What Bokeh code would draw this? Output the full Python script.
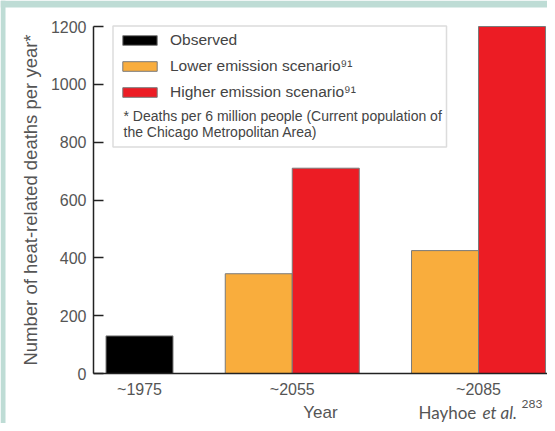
from bokeh.plotting import figure
from bokeh.models import (Range1d, FixedTicker, Legend, LegendItem, Label,
                          BoxAnnotation)
from bokeh.embed import file_html
from bokeh.resources import INLINE

# ---- data ----
periods = ["~1975", "~2055", "~2085"]
observed = [130]               # ~1975
lower_emission = [345, 425]    # ~2055, ~2085
higher_emission = [710, 1200]  # ~2055, ~2085
y_ticks = [0, 200, 400, 600, 800, 1000, 1200]

series_names = ["Observed", "Lower emission scenario\u2079\u00b9",
                "Higher emission scenario\u2079\u00b9"]
colors = ["#000000", "#F9AD3D", "#EC1C24"]

# ---- layout of the bar slots (one unit = one bar width) ----
bar_w = 1.0
gap = 0.78
groups = [[("obs", observed[0])],
          [("low", lower_emission[0]), ("high", higher_emission[0])],
          [("low", lower_emission[1]), ("high", higher_emission[1])]]
xs = {"obs": [], "low": [], "high": []}
vals = {"obs": [], "low": [], "high": []}
centers = []
cursor = 0.0
for g in groups:
    start = cursor
    for kind, v in g:
        xs[kind].append(cursor + bar_w / 2)
        vals[kind].append(v)
        cursor += bar_w
    centers.append((start + cursor) / 2)
    cursor += gap
offset = xs["obs"][0]
for k in xs:
    xs[k] = [x - offset for x in xs[k]]
centers = [c - offset for c in centers]

# ---- page geometry (pixels) ----
W, H = 547, 423
first_bar_px, unit_px = 139, 67      # centre of first bar, one bar width
axis_x_px = 93                       # y-axis position
zero_px, top_px = 373, 26            # y=0 and y=1200 rows
y_top_val = y_ticks[-1]
px_per_val = (zero_px - top_px) / y_top_val

x_start = -first_bar_px / unit_px
x_end = (W - first_bar_px) / unit_px
x_axis_start = -(first_bar_px - axis_x_px) / unit_px
y_start = -(H - zero_px) / px_per_val
y_end = y_top_val + top_px / px_per_val

p = figure(width=W, height=H, output_backend="svg", toolbar_location=None,
           x_range=Range1d(x_start, x_end), y_range=Range1d(y_start, y_end),
           min_border_left=0, min_border_right=0, min_border_top=0,
           min_border_bottom=0)
p.outline_line_color = None
p.grid.visible = False
p.background_fill_color = "white"
p.border_fill_color = "white"

line_col = "#7a7a7a"
r_obs = p.vbar(x=xs["obs"], top=vals["obs"], width=bar_w, fill_color=colors[0],
               line_color=line_col, line_width=1)
r_low = p.vbar(x=xs["low"], top=vals["low"], width=bar_w, fill_color=colors[1],
               line_color=line_col, line_width=1)
r_high = p.vbar(x=xs["high"], top=vals["high"], width=bar_w, fill_color=colors[2],
                line_color=line_col, line_width=1)

# axes
font = "Liberation Sans"
xa = p.xaxis[0]
xa.fixed_location = 0
xa.bounds = (x_axis_start, x_end)
xa.ticker = FixedTicker(ticks=centers)
xa.major_label_overrides = {c: lab for c, lab in zip(centers, periods)}
xa.major_tick_in = 0
xa.major_tick_out = 0
xa.minor_tick_line_color = None
xa.axis_line_width = 1.5
xa.axis_line_color = "#222222"
xa.major_label_text_font = font
xa.major_label_text_font_size = "16px"
xa.major_label_text_color = "#555555"
xa.major_label_standoff = 7
xa.axis_label = "Year"
xa.axis_label_text_font = font
xa.axis_label_text_font_size = "17px"
xa.axis_label_text_font_style = "normal"
xa.axis_label_text_color = "#555555"
xa.axis_label_standoff = 2

ya = p.yaxis[0]
ya.fixed_location = x_axis_start
ya.bounds = (0, y_top_val)
ya.ticker = FixedTicker(ticks=y_ticks)
ya.major_tick_in = 10
ya.major_tick_out = 0
ya.major_tick_line_width = 1.5
ya.major_tick_line_color = "#222222"
ya.minor_tick_line_color = None
ya.axis_line_width = 1.5
ya.axis_line_color = "#222222"
ya.major_label_text_font = font
ya.major_label_text_font_size = "16px"
ya.major_label_text_color = "#555555"
ya.major_label_standoff = 7
ya.axis_label = "Number of heat-related deaths per year*"
ya.axis_label_text_font = font
ya.axis_label_text_font_size = "18.5px"
ya.axis_label_text_font_style = "normal"
ya.axis_label_text_color = "#555555"
ya.axis_label_standoff = 7

# slide background strips (top and left)
teal = "#BEDCD5"
for kw in (dict(left=0, right=W, top=0, bottom=7),
           dict(left=0, right=5, top=0, bottom=H)):
    p.add_layout(BoxAnnotation(left_units="canvas", right_units="canvas",
                               top_units="canvas", bottom_units="canvas",
                               fill_color=teal, fill_alpha=1.0, line_color=None,
                               level="annotation", **kw))

# legend frame
p.add_layout(BoxAnnotation(left=112.5, right=446, top=25.5, bottom=146.5,
                           left_units="canvas", right_units="canvas",
                           top_units="canvas", bottom_units="canvas",
                           fill_color="white", fill_alpha=1.0,
                           line_color="#8a8a8a", line_width=1.5,
                           level="annotation"))

legend = Legend(items=[LegendItem(label=series_names[0], renderers=[r_obs]),
                       LegendItem(label=series_names[1], renderers=[r_low]),
                       LegendItem(label=series_names[2], renderers=[r_high])],
                location=(118, 322), padding=0, margin=0, spacing=8,
                glyph_width=43, glyph_height=12, label_height=17,
                label_standoff=9, border_line_color=None,
                background_fill_alpha=0.0,
                label_text_font=font, label_text_font_size="15.5px",
                label_text_color="#444444")
p.add_layout(legend)

note_lines = ["* Deaths per 6 million people (Current population of",
              "the Chicago Metropolitan Area)"]
for i, t in enumerate(note_lines):
    p.add_layout(Label(x=123, y=308 - 16.5 * i, x_units="screen", y_units="screen",
                       text=t, text_font=font, text_font_size="14px",
                       text_color="#444444", text_baseline="middle"))

# source credit
cred_font = "Lato"
p.add_layout(Label(x=418, y=11, x_units="screen", y_units="screen", text="Hayhoe",
                   text_font=cred_font, text_font_size="17px", text_color="#555555",
                   text_baseline="alphabetic"))
p.add_layout(Label(x=482, y=11, x_units="screen", y_units="screen", text="et al.",
                   text_font=cred_font, text_font_size="17px", text_font_style="italic",
                   text_color="#555555", text_baseline="alphabetic"))
p.add_layout(Label(x=521, y=20, x_units="screen", y_units="screen", text="283",
                   text_font=cred_font, text_font_size="12px", text_color="#555555",
                   text_baseline="alphabetic"))

open("out.html", "w").write(file_html(p, INLINE))
